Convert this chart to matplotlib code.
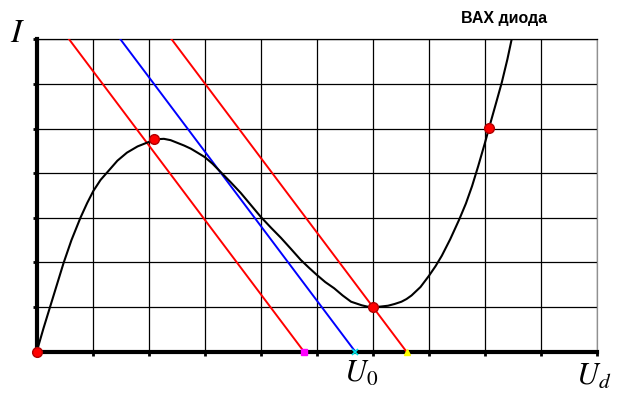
import matplotlib
matplotlib.use("Agg")
import matplotlib.pyplot as plt
import numpy as np

plt.rcParams['mathtext.fontset'] = 'stix'

# IV curve of the diode, grid units
curve_u = [0, 0.12, 0.24, 0.36, 0.48, 0.62, 0.78, 0.9, 1.01, 1.14, 1.28, 1.44, 1.61, 1.8,
           2.0, 2.13, 2.27, 2.39, 2.51, 2.63, 2.75, 2.87, 3.0, 3.14, 3.28, 3.46, 3.64, 3.82,
           4.0, 4.18, 4.36, 4.54, 4.71, 4.86, 5.0, 5.15, 5.31, 5.46, 5.61, 5.8, 5.9, 6.0,
           6.13, 6.27, 6.39, 6.51, 6.6, 6.69, 6.85, 7.0, 7.12, 7.23, 7.38, 7.54, 7.66, 7.77,
           7.88, 8.0, 8.09, 8.2, 8.30, 8.4, 8.48]
curve_i = [0, 0.52, 1.01, 1.5, 1.99, 2.5, 3.0, 3.33, 3.6, 3.85, 4.05, 4.28, 4.46, 4.6,
           4.70, 4.76, 4.77, 4.74, 4.68, 4.62, 4.55, 4.46, 4.36, 4.21, 4.03, 3.80, 3.56, 3.29,
           3.02, 2.78, 2.55, 2.30, 2.06, 1.88, 1.72, 1.56, 1.42, 1.26, 1.12, 1.04, 1.01, 1.0,
           1.01, 1.03, 1.07, 1.12, 1.18, 1.26, 1.45, 1.70, 1.92, 2.15, 2.52, 2.96, 3.32, 3.71,
           4.16, 4.68, 5.09, 5.58, 6.03, 6.55, 7.02]

# load lines: x-intercepts and common slope
load_slope = -1.67
load_intercepts = [4.77, 5.686, 6.60]
load_colors = ['#ff0000', '#0000ff', '#ff0000']
intercept_markers = ['s', 'x', '^']
intercept_colors = ['#ff00ff', '#00e5e5', '#ffff00']

# operating points
op_u = [0, 2.10, 6.0, 8.08]
op_i = [0, 4.77, 1.0, 5.01]

x_ticks = list(range(0, 11))
y_ticks = list(range(0, 8))

fig = plt.figure(figsize=(6.17, 4.07), dpi=100)
ax = fig.add_axes([0.0595, 0.1359, 0.9081, 0.7675])
ax.set_xlim(0, 10)
ax.set_ylim(0, 7)
ax.set_xticks(x_ticks)
ax.set_yticks(y_ticks)
ax.set_xticklabels([])
ax.set_yticklabels([])
ax.grid(True, color='black', linewidth=0.9)
ax.tick_params(direction='out', length=3, width=2, color='black')
for s in ['left', 'bottom']:
    ax.spines[s].set_linewidth(3)
ax.spines['top'].set_linewidth(0.9)
ax.spines['right'].set_color('#909090')
ax.spines['right'].set_linewidth(0.9)

xs = np.array([0.0, 10.0])
for b, c in zip(load_intercepts, load_colors):
    ax.plot(xs, load_slope * (xs - b), color=c, linewidth=1.4, zorder=3)

ax.plot(curve_u, curve_i, color='black', linewidth=1.5, zorder=4)

for b, m, c in zip(load_intercepts, intercept_markers, intercept_colors):
    if m == 'x':
        ax.plot([b], [0], marker=m, color=c, markersize=5, mew=1.2, clip_on=False, zorder=6)
    else:
        ax.plot([b], [0], marker=m, color=c, markersize=4, mec=c, clip_on=False, zorder=6)

ax.plot(op_u, op_i, 'o', color='#ff0000', mec='#b00000', markersize=7, mew=1,
        clip_on=False, zorder=7, linestyle='none')

fig.text(18 / 617, 1 - 42 / 407, r'$I$', fontsize=24, ha='center', va='baseline')
fig.text(344 / 617, 1 - 382 / 407, r'$U_0$', fontsize=22, ha='left', va='baseline')
fig.text(576 / 617, 1 - 385 / 407, r'$U_d$', fontsize=22, ha='left', va='baseline')
fig.text(504 / 617, 1 - 19 / 407, 'ВАХ диода', fontsize=11.5, fontweight='bold',
         family='Liberation Sans', ha='center', va='center')

fig.savefig('out.png', dpi=100)
